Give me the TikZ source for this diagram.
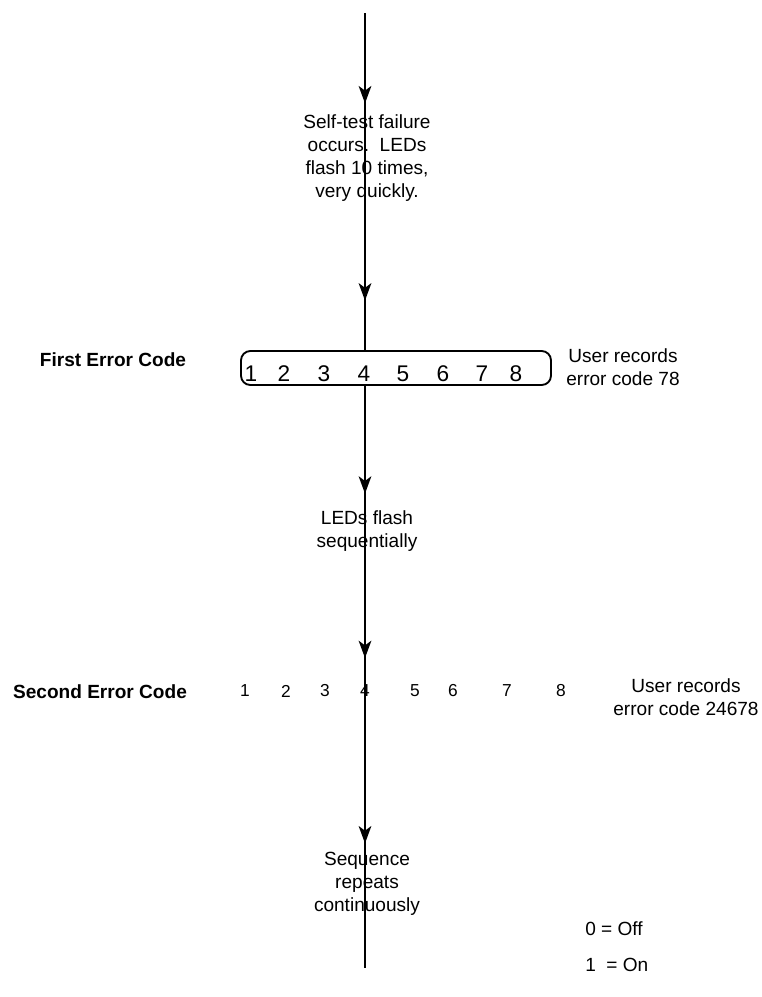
\documentclass[tikz,border=0pt]{standalone}
\usepackage{fontspec}
\setmainfont{Liberation Sans}
\usetikzlibrary{arrows.meta,decorations.markings}

\begin{document}
\begin{tikzpicture}[x=0.75pt, y=-0.75pt,
    txt/.style={font=\fontsize{14.3}{17.25}\selectfont, align=center, inner sep=0pt},
    rowlabel/.style={font=\fontsize{14.3}{17.25}\selectfont\bfseries, inner sep=0pt},
    bigdigit/.style={font=\fontsize{17}{18}\selectfont, inner sep=0pt},
    smalldigit/.style={font=\fontsize{13}{15}\selectfont, inner sep=0pt},
    flow/.style={line width=1.5pt},
    head/.tip={Stealth[length=13pt, width=9.5pt, inset=3.5pt]}]
    \def\mx{365}
    \useasboundingbox (0,0) rectangle (762,997);
    % main line ends
    \coordinate (top) at (\mx,13);
    \coordinate (bottom) at (\mx,968);
    % first error code
    \node[draw, line width=1.4pt, rounded corners=7pt, minimum width=232.5pt, minimum height=25.5pt] (box) at (396,368) {};
    \foreach \n/\x in {1/251,2/284,3/324,4/364,5/403,6/443,7/482,8/516} {
        \node[bigdigit] (b\n) at (\x,374) {\n};
    }
    \node[rowlabel] (first) at (113,360) {First Error Code};
    \node[txt] (rec1) at (623,367) {User records\\error code 78};
    % second error code
    \foreach \n/\x in {1/245,2/286,3/325,4/365,5/415,6/453,7/507,8/561} {
        \node[smalldigit] (s\n) at (\x,691) {\n};
    }
    \node[rowlabel] (second) at (100,692) {Second Error Code};
    \node[txt] (rec2) at (686,697) {User records\\error code 24678};
    % step texts
    \node[txt] (fail) at (367,158) {Self-test failure\\occurs.\ \ LEDs\\flash 10 times,\\very quickly.};
    \node[txt] (seq) at (367,531) {LEDs flash\\sequentially};
    \node[txt] (rep) at (367,884) {Sequence\\repeats\\continuously};
    % legend
    \node[txt, anchor=west] (off) at (585,929) {0 = Off};
    \node[txt, anchor=west] (on) at (585,965) {1\ \ = On};
    % connectors
    \draw[flow, postaction={decorate}, decoration={markings,
        mark=at position 0.268 with {\arrow{head}},
        mark=at position 0.853 with {\arrow{head}}}] (top) -- (top |- box.north);
    \draw[flow, postaction={decorate}, decoration={markings,
        mark=at position 0.353 with {\arrow{head}},
        mark=at position 0.892 with {\arrow{head}}}] (top |- box.south) -- (s4.center);
    \draw[flow, postaction={decorate}, decoration={markings,
        mark=at position 0.55 with {\arrow{head}}}] (s4.center) -- (bottom);
\end{tikzpicture}
\end{document}
